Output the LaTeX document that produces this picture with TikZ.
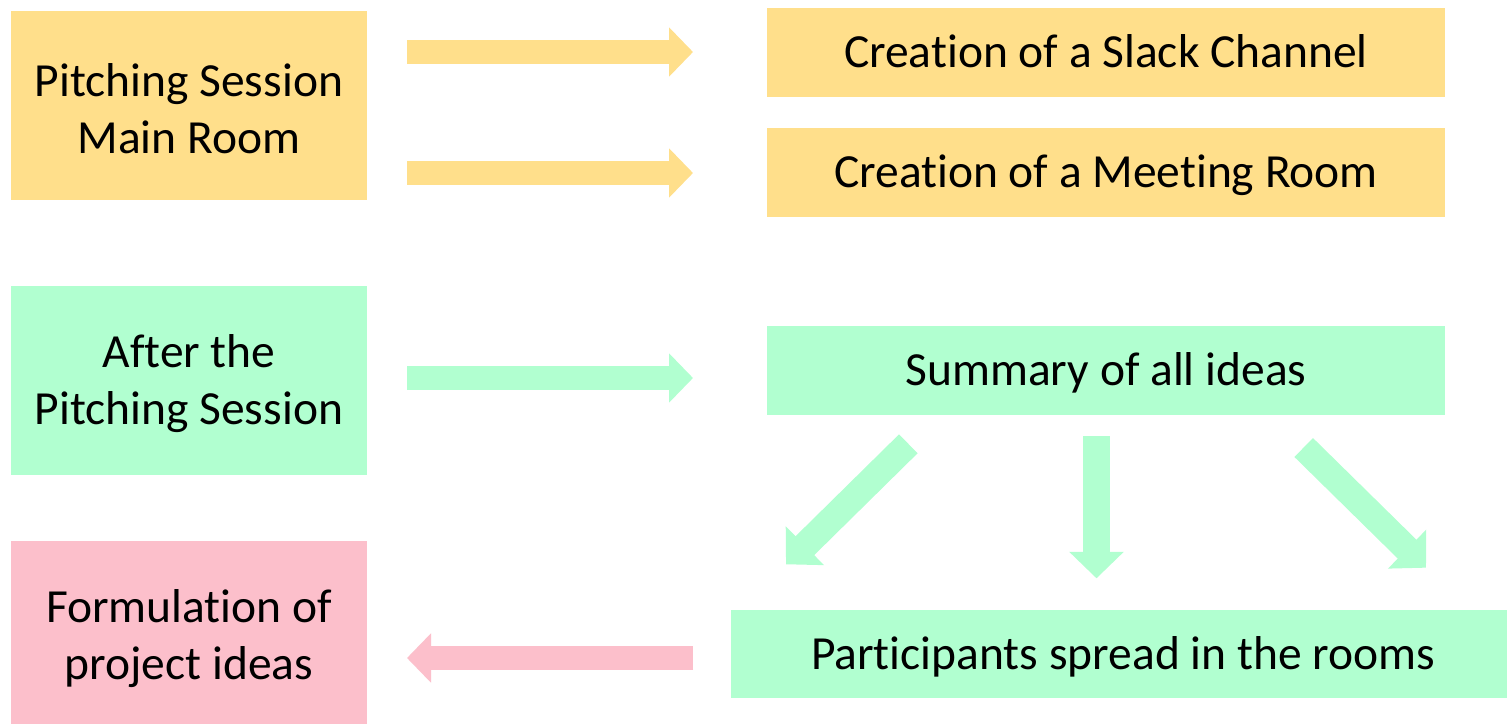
\documentclass[tikz,border=0pt]{standalone}
\usepackage{fontspec}
\setmainfont{Carlito}[Ligatures=NoCommon]
\usetikzlibrary{arrows.meta}
\definecolor{ylw}{HTML}{FFDF8B}
\definecolor{grn}{HTML}{B1FFD0}
\definecolor{pnk}{HTML}{FCBFCB}
\begin{document}
\begin{tikzpicture}[x=1pt,y=-1pt,
  txt/.style={inner sep=0pt, align=center, font=\fontsize{47.5}{56.7}\selectfont},
  ltxt/.style={txt, yshift=-3pt},
  leftbox/.style={inner sep=0pt, minimum width=356pt, minimum height=189pt},
  rightbox/.style={txt, minimum width=678pt, minimum height=89pt, text height=30.6pt, text depth=0pt},
  harrow/.style={line width=24pt, -{Triangle[width=48pt,length=24pt]}},
  darrow/.style={line width=26.5pt, -{Triangle[width=53pt,length=26.5pt]}}]
\useasboundingbox (0,0) rectangle (1507,723);
\fill[white] (0,0) rectangle (1507,723);
% boxes
\node[leftbox, fill=ylw, label={[ltxt]center:{Pitching Session\\Main Room}}] (pm) at (189,105.5) {};
\node[leftbox, fill=grn, label={[ltxt]center:{After the\\Pitching Session}}] (ap) at (189,380.5) {};
\node[leftbox, fill=pnk, label={[ltxt]center:{Formulation of\\project ideas}}] (fp) at (189,635.5) {};
\node[rightbox, fill=ylw] (sc) at (1106,52) {Creation of a Slack Channel};
\node[rightbox, fill=ylw] (mr) at (1106,172.5) {Creation of a Meeting Room};
\node[rightbox, fill=grn] (su) at (1106,370) {Summary of all ideas};
\node[rightbox, fill=grn, minimum width=776pt, minimum height=88pt] (ps) at (1119,654) {\hspace*{8pt}Participants spread in the rooms};
% arrow end points
\coordinate (a1s) at (407,52);   \coordinate (a1e) at (693,52);
\coordinate (a2s) at (407,173);  \coordinate (a2e) at (693,173);
\coordinate (a3s) at (407,378);  \coordinate (a3e) at (693,378);
\coordinate (a4s) at (693,658);  \coordinate (a4e) at (407,658);
\coordinate (d1s) at (908.3,443.8);  \coordinate (d1e) at (786,564.3);
\coordinate (d2s) at (1096.5,436.3); \coordinate (d2e) at (1096.5,578.3);
\coordinate (d3s) at (1303.7,447.5); \coordinate (d3e) at (1426,567.7);
% arrows
\draw[harrow, ylw] (a1s) -- (a1e);
\draw[harrow, ylw] (a2s) -- (a2e);
\draw[harrow, grn] (a3s) -- (a3e);
\draw[harrow, pnk] (a4s) -- (a4e);
\draw[darrow, grn] (d1s) -- (d1e);
\draw[darrow, grn] (d2s) -- (d2e);
\draw[darrow, grn] (d3s) -- (d3e);
\end{tikzpicture}
\end{document}
